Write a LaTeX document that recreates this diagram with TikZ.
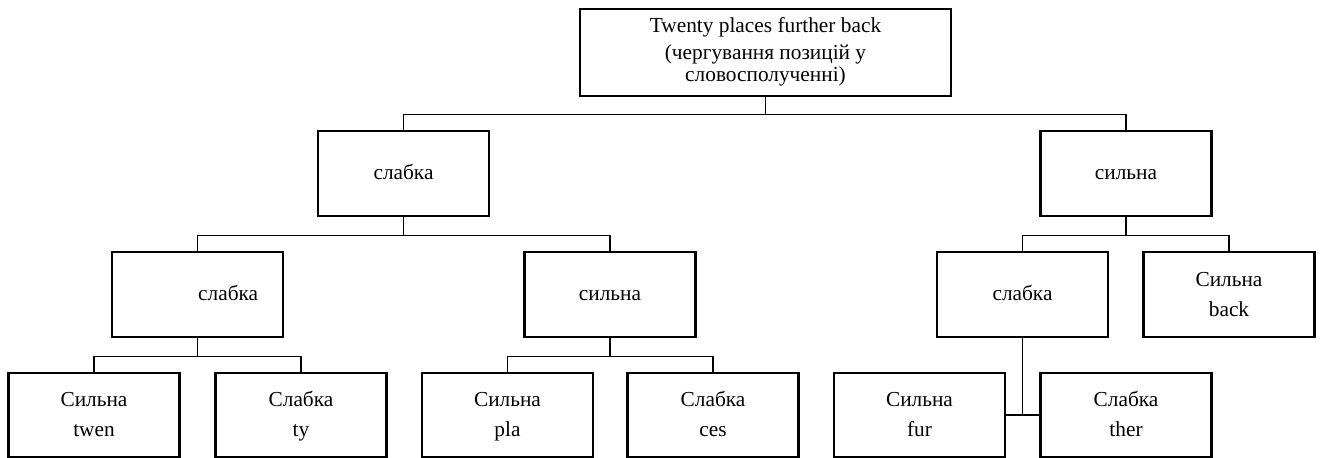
\documentclass[tikz,border=0pt]{standalone}
\usepackage{fontspec}
\setmainfont{Liberation Serif}
\usepackage{tikz}
\usetikzlibrary{positioning}
\tikzset{box/.style = {draw, line width = 2.2pt, rectangle, align = center, inner sep = 0,
    minimum width = 128.25pt, minimum height = 63.75pt,
    execute at end node = \strut,
    font = \fontsize{16}{22.5}\selectfont}}
\tikzset{pair/.style = {box, minimum height = 63pt}}
\tikzset{link/.style = {line width = 0.8pt}}
\newcommand{\lift}[1]{\rule{0pt}{#1}}

\begin{document}
\begin{tikzpicture}[x = 0.75pt, y = -0.75pt]
      \useasboundingbox (0, 0) rectangle (1324, 457);

      \node [box, minimum width = 278.25pt, minimum height = 65.25pt,
             font = \fontsize{16}{16.5}\selectfont] (top) at (765.5, 52.5)
            {\lift{12pt}Twenty places further back\\[4pt](чергування позицій у\\словосполученні)};

      \node [box] (slA) at (403.5, 173.5) {слабка};
      \node [box] (siA) at (1126, 173.5) {сильна};

      \node [box] (slB) at (197.5, 294.5) {\hspace*{46pt}слабка};
      \node [box] (siB) at (610, 294.5) {сильна};
      \node [box] (slC) at (1022.5, 294.5) {слабка};
      \node [pair, minimum height = 63.75pt] (back) at (1229, 294.5) {\lift{17.2pt}Сильна\\back};

      \node [pair] (twen) at (94, 415) {\lift{17.2pt}Сильна\\twen};
      \node [pair] (ty) at (301, 415) {\lift{17.2pt}Слабка\\ty};
      \node [pair] (pla) at (507.5, 415) {\lift{17.2pt}Сильна\\pla};
      \node [pair] (ces) at (713, 415) {\lift{17.2pt}Слабка\\ces};
      \node [pair] (fur) at (919.5, 415) {\lift{17.2pt}Сильна\\fur};
      \node [pair] (ther) at (1126, 415) {\lift{17.2pt}Слабка\\ther};

      % tree links
      \draw [link] (top.south) -- ++(0, 17) -| (slA.north);
      \draw [link] (top.south) -- ++(0, 17) -| (siA.north);

      \draw [link] (slA.south) -- ++(0, 18) -| (slB.north);
      \draw [link] (slA.south) -- ++(0, 18) -| (siB.north);
      \draw [link] (siA.south) -- ++(0, 18) -| (slC.north);
      \draw [link] (siA.south) -- ++(0, 18) -| (back.north);

      \draw [link] (slB.south) -- ++(0, 18) -| (twen.north);
      \draw [link] (slB.south) -- ++(0, 18) -| (ty.north);
      \draw [link] (siB.south) -- ++(0, 18) -| (pla.north);
      \draw [link] (siB.south) -- ++(0, 18) -| (ces.north);

      \draw [link] (slC.south) -- (slC.south |- fur.east);
      \draw [link] (fur.east) -- (ther.west);
    \end{tikzpicture}
\end{document}
